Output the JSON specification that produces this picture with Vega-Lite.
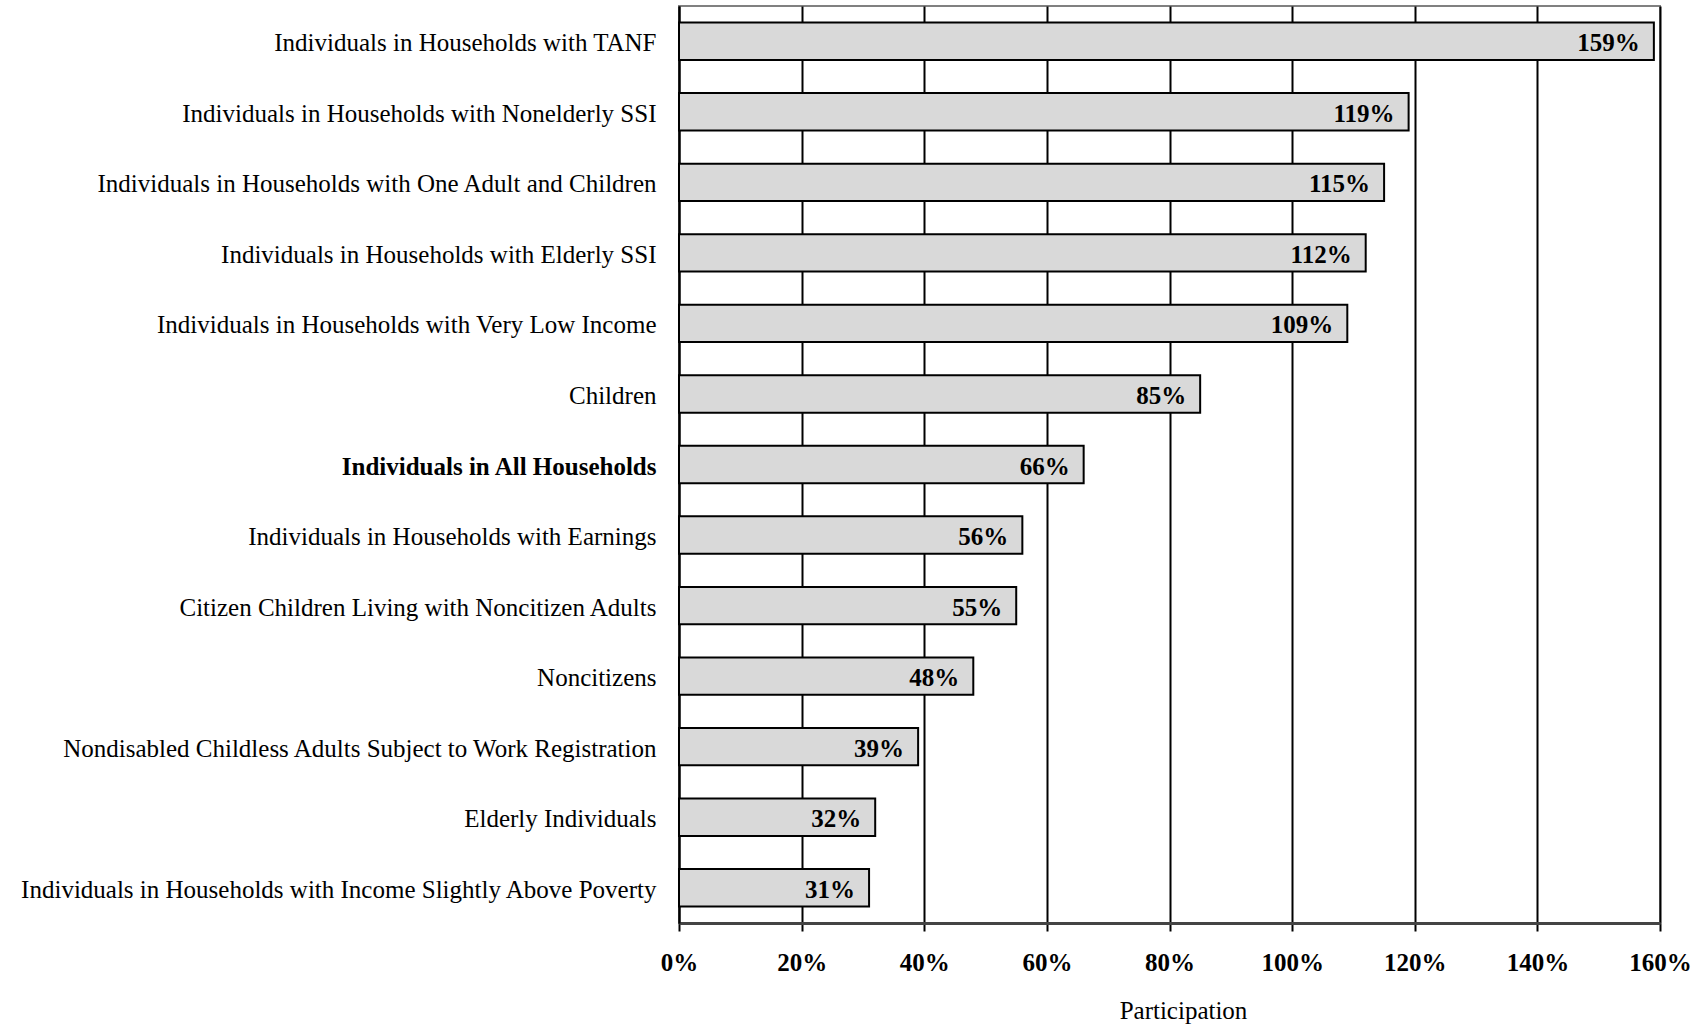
{
  "$schema": "https://vega.github.io/schema/vega-lite/v6.json",
  "width": 981,
  "height": 917,
  "autosize": "none",
  "padding": {"left": 679, "top": 6, "right": 46, "bottom": 103},
  "background": "white",
  "config": {
    "font": "Liberation Serif",
    "view": {"stroke": "#808080", "strokeWidth": 2}
  },
  "data": {
    "values": [
      {"group": "Individuals in Households with TANF", "rate": 159},
      {"group": "Individuals in Households with Nonelderly  SSI", "rate": 119},
      {"group": "Individuals in Households with One Adult and Children", "rate": 115},
      {"group": "Individuals in Households with Elderly SSI", "rate": 112},
      {"group": "Individuals in Households with Very Low Income", "rate": 109},
      {"group": "Children", "rate": 85},
      {"group": "Individuals in All Households", "rate": 66},
      {"group": "Individuals in Households with Earnings", "rate": 56},
      {"group": "Citizen Children Living with Noncitizen Adults", "rate": 55},
      {"group": "Noncitizens", "rate": 48},
      {"group": "Nondisabled Childless  Adults Subject to Work Registration", "rate": 39},
      {"group": "Elderly Individuals", "rate": 32},
      {"group": "Individuals in Households with Income Slightly  Above Poverty", "rate": 31}
    ]
  },
  "transform": [
    {"calculate": "datum.rate + '%'", "as": "rate_label"}
  ],
  "encoding": {
    "y": {
      "field": "group",
      "type": "nominal",
      "sort": null,
      "scale": {"paddingInner": 0.47, "paddingOuter": 0.235},
      "axis": {
        "title": null,
        "ticks": false,
        "domain": true,
        "domainColor": "black",
        "domainWidth": 2,
        "labelFont": "Liberation Serif",
        "labelFontSize": 25,
        "labelColor": "black",
        "labelPadding": 23,
        "labelOffset": 2,
        "labelLimit": 700,
        "labelFontWeight": {
          "condition": {"test": "datum.value == 'Individuals in All Households'", "value": "bold"},
          "value": "normal"
        }
      }
    }
  },
  "layer": [
    {
      "mark": {"type": "bar", "fill": "#d9d9d9", "stroke": "black", "strokeWidth": 2},
      "encoding": {
        "x": {
          "field": "rate",
          "type": "quantitative",
          "scale": {"domain": [0, 160], "nice": false},
          "axis": {
            "values": [0, 20, 40, 60, 80, 100, 120, 140, 160],
            "labelExpr": "datum.value + '%'",
            "title": "Participation",
            "titleFont": "Liberation Serif",
            "titleFontSize": 25,
            "titleFontWeight": "normal",
            "titleColor": "black",
            "titlePadding": 23,
            "titleX": 504,
            "labelFont": "Liberation Serif",
            "labelFontSize": 25,
            "labelFontWeight": "bold",
            "labelColor": "black",
            "labelPadding": 19,
            "labelFlush": false,
            "grid": true,
            "gridColor": "black",
            "gridWidth": 2,
            "gridOpacity": 1,
            "domainColor": "#444444",
            "domainWidth": 3,
            "tickColor": "black",
            "tickWidth": 2,
            "tickSize": 8
          }
        }
      }
    },
    {
      "mark": {
        "type": "text",
        "align": "right",
        "baseline": "middle",
        "dx": -14,
        "dy": 2,
        "font": "Liberation Serif",
        "fontSize": 25,
        "fontWeight": "bold",
        "color": "black"
      },
      "encoding": {
        "x": {"field": "rate", "type": "quantitative"},
        "text": {"field": "rate_label", "type": "nominal"}
      }
    }
  ]
}
